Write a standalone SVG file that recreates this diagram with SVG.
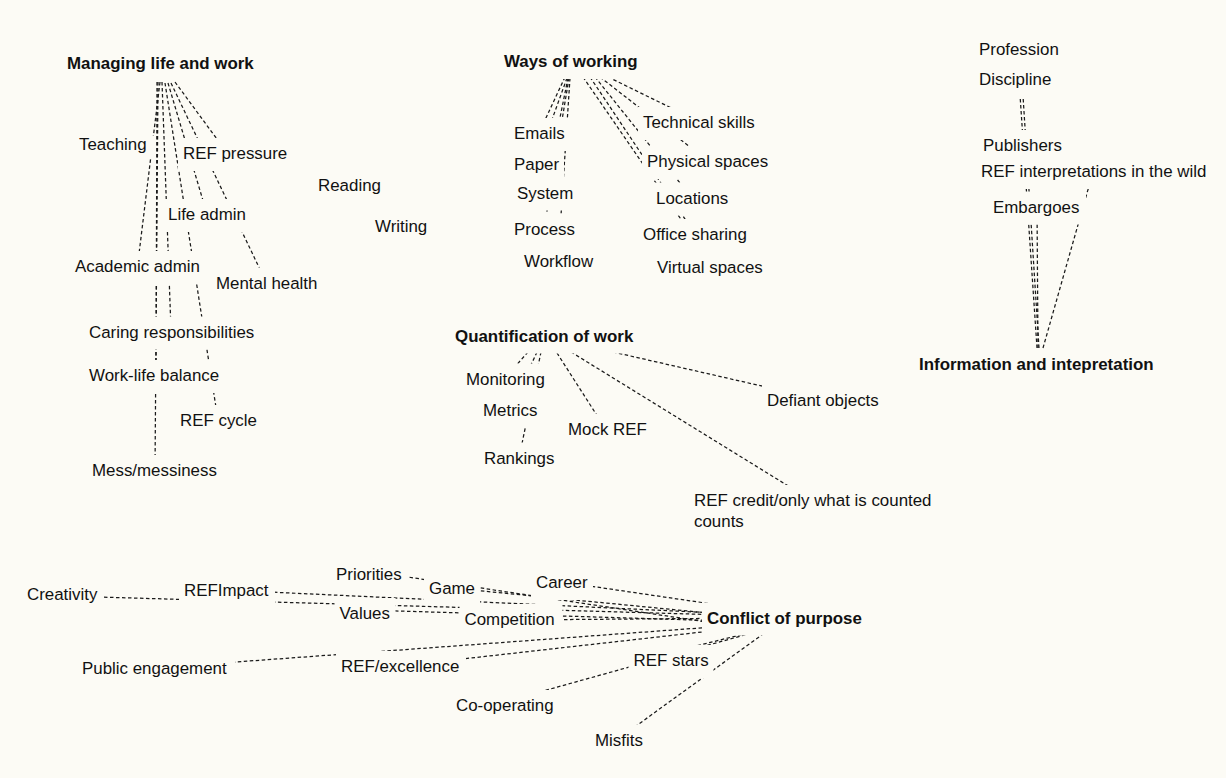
<svg xmlns="http://www.w3.org/2000/svg" width="1226" height="778" viewBox="0 0 1226 778">
<style>
  .bg{fill:#fcfbf5}
  .node rect{fill:#fcfbf5}
  .node text{font-family:"Liberation Sans",Arial,Helvetica,sans-serif;font-size:16.9px;fill:#111}
  .hub text{font-weight:bold;font-size:16.9px}
  #connectors line{stroke:#1a1a1a;stroke-width:1.25;stroke-dasharray:3.5 2.5;fill:none}
</style>
<rect class="bg" x="0" y="0" width="1226" height="778"/>
<g id="connectors">
  <!-- Managing life and work -->
  <line x1="160" y1="82" x2="138" y2="262"/>
  <line x1="158" y1="82" x2="155" y2="470"/>
  <line x1="157" y1="82" x2="156" y2="375"/>
  <line x1="162" y1="82" x2="171" y2="330"/>
  <line x1="165" y1="83" x2="218" y2="420"/>
  <line x1="168" y1="83" x2="207" y2="214"/>
  <line x1="171" y1="83" x2="266" y2="282"/>
  <line x1="175" y1="82" x2="225" y2="150"/>
  <!-- Ways of working -->
  <line x1="565" y1="77" x2="539" y2="133"/>
  <line x1="567" y1="78" x2="536" y2="164"/>
  <line x1="568" y1="78" x2="545" y2="192"/>
  <line x1="569" y1="78" x2="544" y2="229"/>
  <line x1="570" y1="78" x2="558" y2="261"/>
  <line x1="583" y1="77" x2="718" y2="273"/>
  <line x1="590" y1="77" x2="695" y2="234"/>
  <line x1="595" y1="77" x2="692" y2="198"/>
  <line x1="600" y1="77" x2="708" y2="161"/>
  <line x1="608" y1="77" x2="700" y2="122"/>
  <!-- Information and intepretation -->
  <line x1="1037" y1="348" x2="1019" y2="80"/>
  <line x1="1039" y1="348" x2="1022" y2="80"/>
  <line x1="1038" y1="348" x2="1037" y2="206"/>
  <line x1="1043" y1="348" x2="1093" y2="172"/>
  <!-- Quantification of work -->
  <line x1="528" y1="352" x2="505" y2="378"/>
  <line x1="537" y1="352" x2="510" y2="410"/>
  <line x1="541" y1="352" x2="519" y2="458"/>
  <line x1="557" y1="353" x2="605" y2="428"/>
  <line x1="571" y1="352" x2="811" y2="500"/>
  <line x1="613" y1="352" x2="823" y2="400"/>
  <!-- Conflict of purpose -->
  <line x1="62" y1="596" x2="760" y2="616"/>
  <line x1="226" y1="590" x2="760" y2="615"/>
  <line x1="368" y1="571" x2="760" y2="630"/>
  <line x1="451" y1="588" x2="760" y2="618"/>
  <line x1="562" y1="582" x2="760" y2="611"/>
  <line x1="365" y1="610" x2="760" y2="622"/>
  <line x1="510" y1="620" x2="760" y2="618"/>
  <line x1="154" y1="668" x2="760" y2="623.6"/>
  <line x1="400" y1="666" x2="760" y2="625.5"/>
  <line x1="680" y1="650" x2="760" y2="630"/>
  <line x1="505" y1="701.6" x2="760" y2="630.7"/>
  <line x1="625" y1="734" x2="770" y2="629"/>
</g>

<!-- Managing life and work cluster -->
<g id="managing-life-and-work" class="node hub"><rect x="62" y="48" width="198" height="33"/><text x="67" y="69">Managing life and work</text></g>
<g id="teaching" class="node"><rect x="74" y="136" width="80" height="21"/><text x="79" y="150">Teaching</text></g>
<g id="ref-pressure" class="node"><rect x="178" y="138" width="116" height="33"/><text x="183" y="159">REF pressure</text></g>
<g id="reading" class="node"><rect x="313" y="170" width="74" height="33"/><text x="318" y="191">Reading</text></g>
<g id="writing" class="node"><rect x="370" y="211" width="63" height="33"/><text x="375" y="232">Writing</text></g>
<g id="life-admin" class="node"><rect x="163" y="199" width="90" height="33"/><text x="168" y="220">Life admin</text></g>
<g id="academic-admin" class="node"><rect x="70" y="251" width="138" height="33"/><text x="75" y="272">Academic admin</text></g>
<g id="mental-health" class="node"><rect x="211" y="267.5" width="113" height="33"/><text x="216" y="288.5">Mental health</text></g>
<g id="caring-responsibilities" class="node"><rect x="84" y="316.5" width="177" height="33"/><text x="89" y="337.5">Caring responsibilities</text></g>
<g id="work-life-balance" class="node"><rect x="84" y="360" width="143" height="33"/><text x="89" y="381">Work-life balance</text></g>
<g id="ref-cycle" class="node"><rect x="175" y="405" width="88" height="33"/><text x="180" y="426">REF cycle</text></g>
<g id="mess-messiness" class="node"><rect x="87" y="455" width="136" height="33"/><text x="92" y="476">Mess/messiness</text></g>

<!-- Ways of working cluster -->
<g id="ways-of-working" class="node hub"><rect x="499" y="46" width="145" height="33"/><text x="504" y="67">Ways of working</text></g>
<g id="emails" class="node"><rect x="509" y="118" width="61" height="33"/><text x="514" y="139">Emails</text></g>
<g id="paper" class="node"><rect x="509" y="149" width="55" height="33"/><text x="514" y="170">Paper</text></g>
<g id="system" class="node"><rect x="512" y="177.5" width="67" height="33"/><text x="517" y="198.5">System</text></g>
<g id="process" class="node"><rect x="509" y="214" width="72" height="33"/><text x="514" y="235">Process</text></g>
<g id="workflow" class="node"><rect x="519" y="246" width="81" height="33"/><text x="524" y="267">Workflow</text></g>
<g id="technical-skills" class="node"><rect x="638" y="107" width="124" height="33"/><text x="643" y="128">Technical skills</text></g>
<g id="physical-spaces" class="node"><rect x="642" y="146" width="134" height="33"/><text x="647" y="167">Physical spaces</text></g>
<g id="locations" class="node"><rect x="651" y="182.5" width="84" height="33"/><text x="656" y="203.5">Locations</text></g>
<g id="office-sharing" class="node"><rect x="638" y="219" width="116" height="33"/><text x="643" y="240">Office sharing</text></g>
<g id="virtual-spaces" class="node"><rect x="652" y="252" width="118" height="33"/><text x="657" y="273">Virtual spaces</text></g>

<!-- Information and intepretation cluster -->
<g id="profession" class="node"><rect x="974" y="33.5" width="91" height="33"/><text x="979" y="54.5">Profession</text></g>
<g id="discipline" class="node"><rect x="974" y="64" width="92" height="33"/><text x="979" y="85">Discipline</text></g>
<g id="publishers" class="node"><rect x="978" y="130" width="91" height="33"/><text x="983" y="151">Publishers</text></g>
<g id="ref-interpretations-in-the-wild" class="node"><rect x="976" y="156" width="230" height="33"/><text x="981" y="177">REF interpretations in the wild</text></g>
<g id="embargoes" class="node"><rect x="988" y="191.5" width="98" height="33"/><text x="993" y="212.5">Embargoes</text></g>
<g id="information-and-intepretation" class="node hub"><rect x="914" y="349" width="248" height="33"/><text x="919" y="370">Information and intepretation</text></g>

<!-- Quantification of work cluster -->
<g id="quantification-of-work" class="node hub"><rect x="450" y="320.5" width="190" height="33"/><text x="455" y="341.5">Quantification of work</text></g>
<g id="monitoring" class="node"><rect x="461" y="363.5" width="90" height="33"/><text x="466" y="384.5">Monitoring</text></g>
<g id="metrics" class="node"><rect x="478" y="395" width="65" height="33"/><text x="483" y="416">Metrics</text></g>
<g id="rankings" class="node"><rect x="479" y="442.5" width="82" height="33"/><text x="484" y="463.5">Rankings</text></g>
<g id="mock-ref" class="node"><rect x="563" y="414" width="90" height="33"/><text x="568" y="435">Mock REF</text></g>
<g id="defiant-objects" class="node"><rect x="762" y="385" width="123" height="33"/><text x="767" y="406">Defiant objects</text></g>
<g id="ref-credit" class="node"><rect x="689" y="485" width="252" height="54"/><text x="694" y="506">REF credit/only what is counted</text><text x="694" y="527">counts</text></g>

<!-- Conflict of purpose cluster -->
<g id="conflict-of-purpose" class="node hub"><rect x="702" y="602.5" width="167" height="33"/><text x="707" y="623.5">Conflict of purpose</text></g>
<g id="creativity" class="node"><rect x="22" y="579" width="80" height="33"/><text x="27" y="600">Creativity</text></g>
<g id="refimpact" class="node"><rect x="179" y="575" width="96" height="33"/><text x="184" y="596">REFImpact</text></g>
<g id="priorities" class="node"><rect x="331" y="559" width="77" height="33"/><text x="336" y="580">Priorities</text></g>
<g id="game" class="node"><rect x="424" y="572.5" width="56" height="33"/><text x="429" y="593.5">Game</text></g>
<g id="career" class="node"><rect x="531" y="567" width="62" height="33"/><text x="536" y="588">Career</text></g>
<g id="values" class="node"><rect x="334.5" y="598" width="61" height="33"/><text x="339.5" y="619">Values</text></g>
<g id="competition" class="node"><rect x="459.5" y="604" width="103" height="33"/><text x="464.5" y="625">Competition</text></g>
<g id="public-engagement" class="node"><rect x="77" y="652.5" width="158" height="33"/><text x="82" y="673.5">Public engagement</text></g>
<g id="ref-excellence" class="node"><rect x="336" y="651" width="130" height="33"/><text x="341" y="672">REF/excellence</text></g>
<g id="ref-stars" class="node"><rect x="628.5" y="645" width="85" height="33"/><text x="633.5" y="666">REF stars</text></g>
<g id="co-operating" class="node"><rect x="451" y="690" width="110" height="33"/><text x="456" y="711">Co-operating</text></g>
<g id="misfits" class="node"><rect x="590" y="725" width="57" height="33"/><text x="595" y="746">Misfits</text></g>
</svg>
